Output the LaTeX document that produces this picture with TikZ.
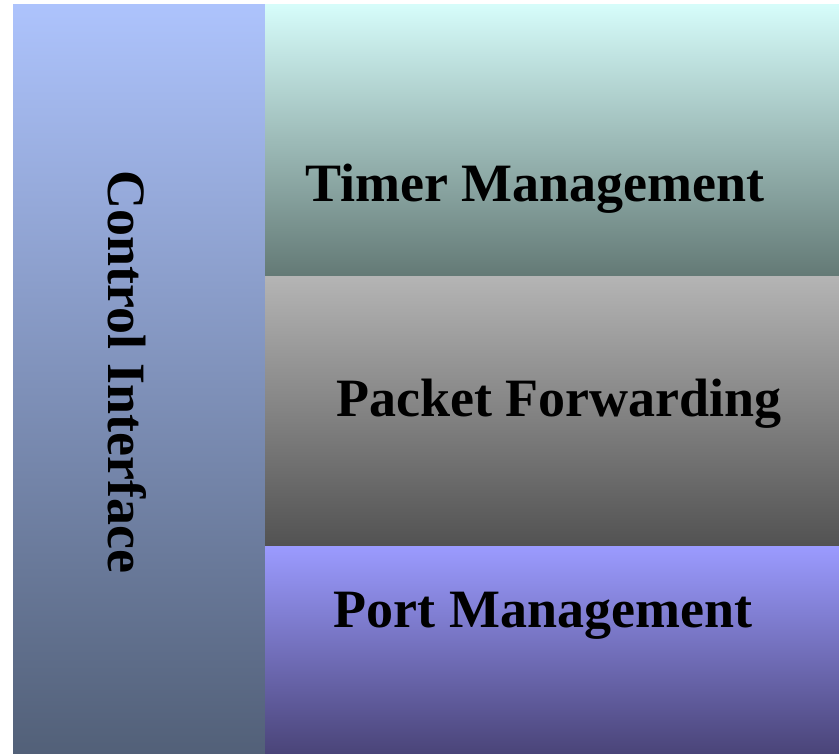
\documentclass[tikz,border=0pt]{standalone}
\usepackage{fontspec}
\setmainfont{Liberation Serif}
\usepackage{xcolor}

\definecolor{ctrltop}{RGB}{173,195,252}
\definecolor{ctrlbot}{RGB}{82,96,120}
\definecolor{timertop}{RGB}{214,252,250}
\definecolor{timerbot}{RGB}{99,121,117}
\definecolor{pkttop}{RGB}{180,180,180}
\definecolor{pktbot}{RGB}{82,82,82}
\definecolor{porttop}{RGB}{155,155,255}
\definecolor{portbot}{RGB}{74,68,120}

\tikzset{
  block/.style={inner sep=0pt, outer sep=0pt, anchor=north west},
  title/.style={anchor=base, inner sep=0pt,
    font=\fontsize{54}{60}\selectfont\bfseries}
}

\begin{document}
\begin{tikzpicture}[x=1pt,y=-1pt]
  \useasboundingbox (0,0) rectangle (839,754);
  % blocks
  \node (ctrl) [block, minimum width=252pt, minimum height=749pt,
    top color=ctrltop, bottom color=ctrlbot] at (13,5) {};
  \node (timer) [block, minimum width=574pt, minimum height=272pt,
    top color=timertop, bottom color=timerbot] at (265,5) {};
  \node (pkt) [block, minimum width=574pt, minimum height=269pt,
    top color=pkttop, bottom color=pktbot] at (265,277) {};
  \node (port) [block, minimum width=574pt, minimum height=208pt,
    top color=porttop, bottom color=portbot] at (265,546) {};
  % labels
  \node (ctrllbl) [title, rotate=-90] at (108,372) {Control Interface};
  \node (timerlbl) [title] at (535,202) {Timer Management};
  \node (pktlbl) [title] at (559,417) {Packet Forwarding};
  \node (portlbl) [title] at (543,627) {Port Management};
\end{tikzpicture}
\end{document}
